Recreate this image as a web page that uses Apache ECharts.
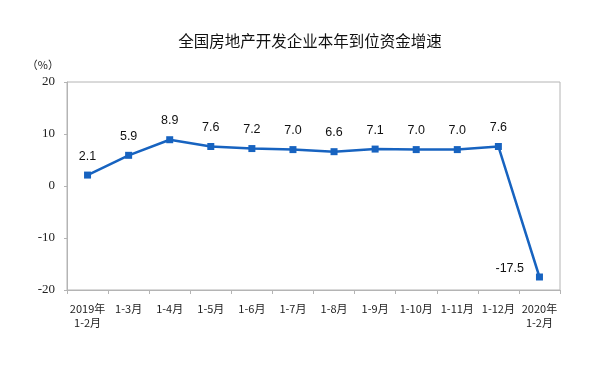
<!DOCTYPE html>
<html><head><meta charset="utf-8">
<script src="https://cdn.jsdelivr.net/npm/echarts@6/dist/echarts.min.js"></script>
<style>html,body{margin:0;padding:0;background:#fff}#c{width:600px;height:367px}</style>
</head><body><div id="c"></div>
<script>
const titleText = '全国房地产开发企业本年到位资金增速';
const categories = ['2019年\n1-2月','1-3月','1-4月','1-5月','1-6月','1-7月','1-8月','1-9月','1-10月','1-11月','1-12月','2020年\n1-2月'];
const growth = [2.1, 5.9, 8.9, 7.6, 7.2, 7.0, 6.6, 7.1, 7.0, 7.0, 7.6, -17.5];
const yTicks = [-20, -10, 0, 10, 20];

const chart = echarts.init(document.getElementById('c'), null, {renderer:'canvas'});
chart.setOption({
  animation: false,
  title: {
    text: titleText, left: 305, textAlign: 'center', top: 28,
    textStyle: {fontFamily: '"Noto Sans CJK SC", sans-serif', fontSize: 15.5, fontWeight: 'normal', color: '#111'}
  },
  grid: {left: 67, right: 40, top: 82, bottom: 77, show: true, borderColor: '#b4b4b4', borderWidth: 1},
  xAxis: {
    type: 'category', data: categories, boundaryGap: true,
    axisLine: {onZero: false, lineStyle: {color: '#b4b4b4'}},
    axisTick: {show: true, length: 4, lineStyle: {color: '#b4b4b4'}},
    axisLabel: {interval: 0, fontFamily: '"Noto Sans CJK SC", sans-serif', fontSize: 11, color: '#222', lineHeight: 14, margin: 12}
  },
  yAxis: {
    type: 'value', min: yTicks[0], max: yTicks[yTicks.length-1], interval: 10,
    name: '（%）', nameLocation: 'end', nameGap: 12,
    nameTextStyle: {fontFamily: '"Noto Sans CJK SC", sans-serif', fontSize: 11, color: '#222', align: 'right', padding: [0, 8, 0, 0]},
    axisLine: {show: true, lineStyle: {color: '#b4b4b4'}},
    axisTick: {show: true, length: 3, lineStyle: {color: '#b4b4b4'}},
    splitLine: {show: false},
    axisLabel: {fontFamily: '"Liberation Serif", serif', fontSize: 13, color: '#222', margin: 12}
  },
  series: [{
    type: 'line', data: growth.map((v, i) => i === growth.length - 1 ? {value: v, label: {position: 'left', distance: 12, offset: [0, -8]}} : v),
    symbol: 'rect', symbolSize: 7,
    lineStyle: {color: '#1763c0', width: 2.5},
    itemStyle: {color: '#1763c0'},
    label: {show: true, position: 'top', distance: 9, fontFamily: '"Liberation Sans", Arial, sans-serif', fontSize: 12.5, color: '#111',
      formatter: p => p.value.toFixed(1)}
  }]
});
</script></body></html>
